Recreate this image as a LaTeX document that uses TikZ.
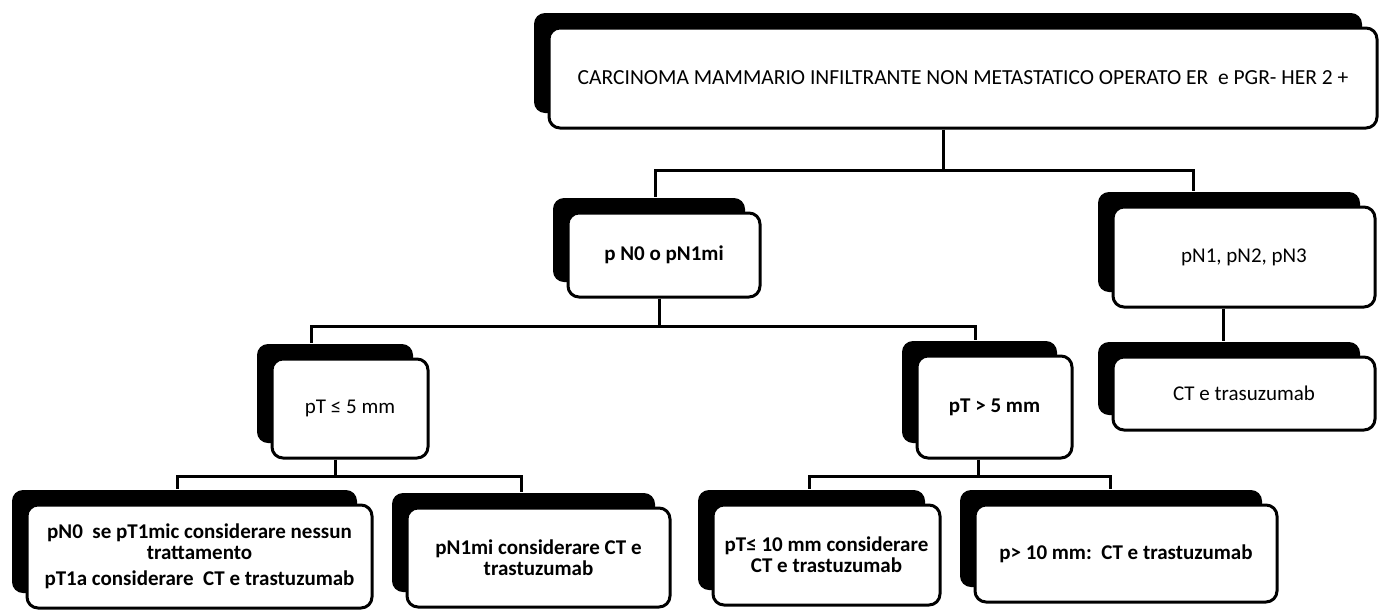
\documentclass[tikz,border=0pt]{standalone}
\usepackage{fontspec}
\setmainfont{Carlito}
\usetikzlibrary{shadows,calc}
\tikzset{
  box/.style={draw=black, line width=3pt, fill=white, rounded corners=11pt,
    align=center, inner sep=0pt, font=\fontsize{21}{21}\selectfont,
    general shadow={shadow xshift=-15pt, shadow yshift=15pt, fill=black}},
  boldbox/.style={box, font=\fontsize{21}{21}\selectfont\bfseries},
  conn/.style={line width=3pt, black, line join=miter},
}
\begin{document}
\begin{tikzpicture}[x=1pt,y=-1pt]
\useasboundingbox[fill=white] (0,0) rectangle (1383,611);

% first level
\node[box, font=\fontsize{21.5}{21.5}\selectfont, minimum width=828pt, minimum height=100pt] (top) at (963,78)
  {CARCINOMA MAMMARIO INFILTRANTE NON METASTATICO OPERATO ER\ \ e PGR- HER 2 +};

% nodal status
\node[boldbox, minimum width=192pt, minimum height=84pt] (n0) at (664,255) {p N0 o pN1mi};
\node[box, minimum width=262pt, minimum height=100pt] (n1) at (1244,257) {pN1, pN2, pN3};

% tumour size
\node[box, minimum width=156pt, minimum height=99pt] (t5a) at (350,408.5) {pT ≤ 5 mm};
\node[boldbox, minimum width=155pt, minimum height=102pt] (t5b) at (994.5,407) {pT > 5 mm};
\node[box, minimum width=262pt, minimum height=73pt] (ctA) at (1244,393.5) {CT e trasuzumab};

% therapy
\node[boldbox, minimum width=345pt, minimum height=103pt] (g) at (199.5,556.5)
  {pN0\ \ se pT1mic considerare nessun\\ trattamento\\[5pt] pT1a considerare\ \ CT e trastuzumab};
\node[boldbox, minimum width=263pt, minimum height=99pt] (h) at (538.5,557.5)
  {pN1mi considerare CT e\\ trastuzumab};
\node[boldbox, minimum width=227pt, minimum height=100pt] (i) at (826.5,555)
  {pT≤ 10 mm considerare\\ CT e trastuzumab};
\node[boldbox, minimum width=302pt, minimum height=97pt] (j) at (1126,553.5)
  {p> 10 mm:\ \ CT e trastuzumab};

% connectors
\draw[conn] ([xshift=-20pt]top.south) -- ++(0,41) coordinate (j1);
\draw[conn] (j1) -| ([xshift=-9pt,yshift=15pt]n0.north);
\draw[conn] (j1) -| ([xshift=-51pt,yshift=15pt]n1.north);

\draw[conn] ([xshift=-5pt]n0.south) -- ++(0,28) coordinate (j2);
\draw[conn] (j2) -| ([xshift=-39pt,yshift=15pt]t5a.north);
\draw[conn] (j2) -| ([xshift=-19.5pt,yshift=15pt]t5b.north);

\draw[conn] ([xshift=-21pt]n1.south) -- ([xshift=-21pt,yshift=15pt]ctA.north);

\draw[conn] ([xshift=-15pt]t5a.south) -- ++(0,17) coordinate (j3);
\draw[conn] (j3) -| ([xshift=-22.5pt,yshift=15pt]g.north);
\draw[conn] (j3) -| ([xshift=-17.5pt,yshift=15pt]h.north);

\draw[conn] ([xshift=-16.5pt]t5b.south) -- ++(0,17) coordinate (j4);
\draw[conn] (j4) -| ([xshift=-17.5pt,yshift=15pt]i.north);
\draw[conn] (j4) -| ([xshift=-16pt,yshift=15pt]j.north);
\end{tikzpicture}
\end{document}
